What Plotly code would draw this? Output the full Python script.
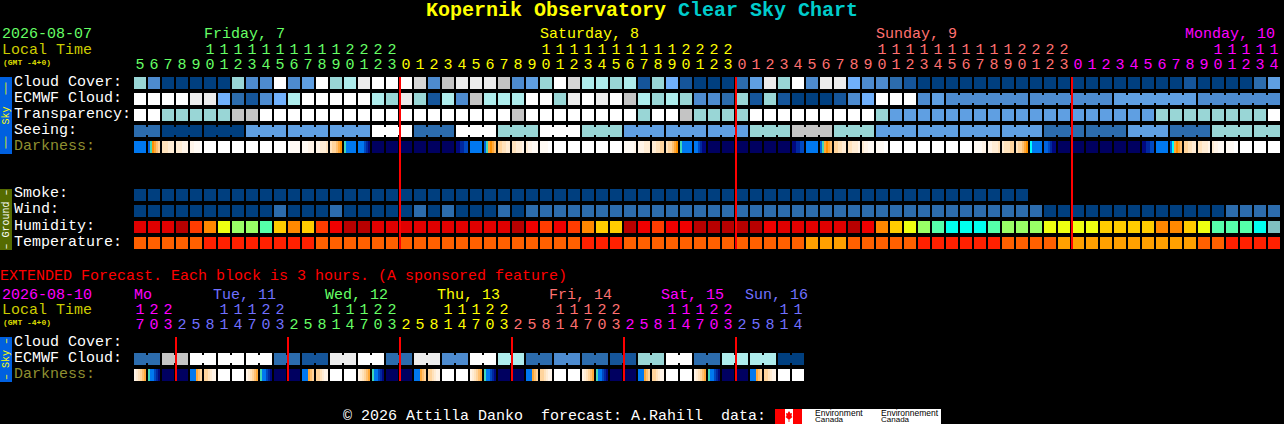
import plotly.graph_objects as go

W, H = 1284, 424
PALETTE = {
    "A": "#003f7f", "K": "#15559a", "B": "#2c6cad", "C": "#4d8bcf", "D": "#5f9fe2", "E": "#70b0fb",
    "F": "#99d6d6", "G": "#aeecec", "H": "#c4c4c4", "L": "#d6d6d6", "I": "#ececec", "J": "#ffffff",
    "P": "#b80000", "Q": "#e00000", "R": "#f00000", "S": "#ff3c00", "T": "#ff8800", "U": "#ffcc00",
    "V": "#eeff11", "W": "#99ff66", "X": "#55ffaa", "Y": "#00ffee", "Z": "#80c0c0",
    "i": "#ff6000", "j": "#ff2000", "k": "#ffa000",
    "w": "#ffffff", "a": "#fffaf4", "b": "#fff4e8", "c": "#ffecd4", "d": "#ffe2bc", "e": "#ffd49c",
    "f": "#ffc070", "g": "#ffa838", "h": "#ff9000", "t": "#40d8b8", "y": "#00ffff", "u": "#0078f0",
    "v": "#0064e0", "x": "#0048c0", "z": "#0028a0", "n": "#000880", "m": "#000060",
}

CLOUD = "FCAAAAAFCC" "JCDJFGIJJJ" "LCHIIIHCDF" "JLGGFGKFEK" "AAABDIFJCI" "IECCBKAAAA" "AAAAAAAAAA" "AAAAAKAAAABD"
ECMWF = "JJJJIIEBKC" "EGJJJJJGFI" "FKGCHGGGJJ" "FIJIJHGFGF" "CCBFKFKAAA" "KCEJJJCDCC" "CCCCCCCCCC" "DDDDDDCCCCCC"
TRANSP = "JJFFFFFHHJ" "JJJJJJJJJJ" "JJJJJJJHJJ" "JJJJJJFJJH" "FFFFJJJJJJ" "JJJFDDDDDD" "DDDDDDDDDD" "DDDFFFFFFFFJ"
SEEING_GROUPS = "BB AAA AAA DDD DDD DDD JJJ BBB JJJ FFF JJJ FFF DDD DDD DDD FFF HHH FFF DDD DDD DDD DDD BBB BBB DDD BBB FFF FF"
ECMWF_CHAINS = [(58, 63), (64, 69), (70, 75), (76, 81)]
SMOKE = "A" * 64
WIND = "AAAAAAAAAA" "BAAABAAAAA" "BABAAABABB" "BBBBBBBBBB" "BBBBBBBBBB" "BBBBBBBBBB" "BBBBBAAAAA" "AAAAAAAABBBB"
HUMID = "QQQPSTVWWX" "UTUSRPPQQQ" "QQQQQQQPRS" "RSTUUPRSRR" "PPPPPRQQQQ" "QPRTUVWXYY" "YXWWWVVVVU" "UUUTTUVXXXYZ"
TEMP = "iiiiijjjjj" "jjjiiiiiii" "iiiiiiiiii" "iijjjiiiii" "iiiiiiiikk" "kiiiiijjjj" "jjiiiikkkk" "kkkkkkiijjjj"
DARK = (
    ["uuuuuu", "vthgfe", "dddccc", "cccbbb", "bbaaaw"] + ["wwwwww"] * 6 +
    ["waaaaa", "aaabbb", "bbcccd", "deefgh", "tuuuuu", "uuuxzn"] + ["mmmmmm"] * 6 +
    ["nnzzxx", "uuuuuu", "vtghgf", "eeddcc", "ddcccb", "cbbaaa", "aaaaww"] + ["wwwwww"] * 5 +
    ["aaaaab", "bbbccc", "ccddee", "deefgh", "tuuuuu", "uuxznn"] + ["mmmmmm"] * 6 +
    ["nnzzxx", "uuuuuu", "vtghgf", "eeddcc", "ddcccb", "cbbaaa", "aaaaww"] + ["wwwwww"] * 6 +
    ["aaaabb", "bbcccd", "cdddee", "deefgh", "yuuuuu", "vvxznn"] + ["mmmmmm"] * 6 +
    ["nnzzxx", "uuuuuu", "vyghgf", "eeddcc", "ddcccb", "cbbaaa", "aaaaww"] + ["wwwwww"] * 4
)
MIDNIGHTS = [19, 43, 67]

EXT_ECMWF_PAIRS = "BHJJJBKIJBICJGBCBKFJBGGA"
EXT_DARK = (["bcdefg", "tuuxzn", "mmmmmm", "mmmmmm", "uuugfe", "eedcbb", "wwwwww", "wwwwww"] * 6)
EXT_DIVIDERS = [3, 11, 19, 27, 35, 43]

HOUR_UNITS = list("5678901234567890123" "012345678901234567890123" "012345678901234567890123" "012345678901234")
HOUR_TENS = list("     11111111112222" "          11111111112222" "          11111111112222" "          11111")
HOUR_COLORS = ["#66ff66"] * 19 + ["#ffff00"] * 24 + ["#ff7070"] * 24 + ["#ff00ff"] * 15
DAY_LABELS = [("Friday, 7", 204, "#66ff66"), ("Saturday, 8", 540, "#ffff00"), ("Sunday, 9", 876, "#ff7070"), ("Monday, 10", 1185, "#ff00ff")]

EXT_UNITS = list("703" "25814703" "25814703" "25814703" "25814703" "25814703" "25814")
EXT_TENS = list("122" "   11122" "   11122" "   11122" "   11122" "   11122" "   11")
EXT_COLORS = ["#ff00ff"] * 3 + ["#7070ff"] * 8 + ["#66ff66"] * 8 + ["#ffff00"] * 8 + ["#ff7070"] * 8 + ["#ff00ff"] * 8 + ["#7070ff"] * 5
EXT_DAYS = [("Mo", 134, "#ff00ff"), ("Tue, 11", 213, "#7070ff"), ("Wed, 12", 325, "#66ff66"), ("Thu, 13", 437, "#ffff00"),
            ("Fri, 14", 549, "#ff7070"), ("Sat, 15", 661, "#ff00ff"), ("Sun, 16", 745, "#7070ff")]

MONO = "Liberation Mono"
KEYS = list(PALETTE)
IDX = {k: i for i, k in enumerate(KEYS)}
CS = [[i / (len(KEYS) - 1), PALETTE[k]] for i, k in enumerate(KEYS)]


def fx(x):
    return x / W


def fy(y):
    return 1 - y / H


def row(s, n=82):
    return [IDX[c] for c in s] + [None] * (n - len(s))


def hm(z, x, y, xgap, ygap, xa="x", ya="y"):
    return go.Heatmap(z=z, x=x, y=y, xgap=xgap, ygap=ygap, zmin=0, zmax=len(KEYS) - 1, colorscale=CS,
                      showscale=False, hoverinfo="skip", xaxis=xa, yaxis=ya)


def connectors(s, joins, n):
    return [IDX[s[i]] if i in joins else None for i in range(n - 1)]


def dark_cells(cells):
    xs, zs = [], []
    for i, cell in enumerate(cells):
        xs.append(i - 0.5)
        zs.append(None)
        for k, c in enumerate(cell):
            xs.append(i - 0.5 + (k + 1) / 7)
            zs.append(IDX[c])
    return xs, zs


SEEING = SEEING_GROUPS.replace(" ", "")
seeing_joins, pos = set(), 0
for g in SEEING_GROUPS.split():
    seeing_joins.update(range(pos, pos + len(g) - 1))
    pos += len(g)
ecmwf_joins = {i for a, b in ECMWF_CHAINS for i in range(a, b)}

fig = go.Figure()
cols = list(range(82))
blank = [None] * 82
main = [row(CLOUD), row(ECMWF), row(TRANSP), row(SEEING), blank, blank, blank,
        row(SMOKE), row(WIND), row(HUMID), row(TEMP)]
fig.add_trace(hm(main, cols, list(range(11)), 2, 4))
bcols = [i + 0.5 for i in range(81)]
blank81 = [None] * 81
fig.add_trace(hm([blank81, connectors(ECMWF, ecmwf_joins, 82), blank81, connectors(SEEING, seeing_joins, 82)],
                 bcols, [0, 1, 2, 3], 12, 8))
dx, dz = dark_cells(DARK)
fig.add_trace(hm([[None] * len(dz), dz, [None] * len(dz)], dx, [3, 4, 5], 0, 4))

ext_ecmwf = "".join(c * 2 for c in EXT_ECMWF_PAIRS)
ecols = list(range(48))
fig.add_trace(hm([[None] * 48, row(ext_ecmwf, 48), [None] * 48], ecols, [0, 1, 2], 2, 4, ya="y2"))
fig.add_trace(hm([[None] * 47, connectors(ext_ecmwf, set(range(0, 47, 2)), 48), [None] * 47],
                 [i + 0.5 for i in range(47)], [0, 1, 2], 12, 8, ya="y2"))
ex, ez = dark_cells(EXT_DARK)
fig.add_trace(hm([[None] * len(ez), [None] * len(ez), ez], ex, [0, 1, 2], 0, 4, ya="y2"))

# midnight dividers
lx, ly = [], []
for c in MIDNIGHTS:
    lx += [c - 0.43, c - 0.43, None]
    ly += [-0.375, 10.375, None]
fig.add_trace(go.Scatter(x=lx, y=ly, mode="lines", line=dict(color="#ff0000", width=2), hoverinfo="skip"))
lx, ly = [], []
for c in EXT_DIVIDERS:
    lx += [c - 0.43, c - 0.43, None]
    ly += [-0.375, 2.375, None]
fig.add_trace(go.Scatter(x=lx, y=ly, mode="lines", line=dict(color="#ff0000", width=2), hoverinfo="skip", yaxis="y2"))


def text_row(x, y, text, colors, ya):
    fig.add_trace(go.Scatter(x=x, y=[y] * len(x), text=text, mode="text", textposition="middle center",
                             textfont=dict(family=MONO, size=15, color=colors), cliponaxis=False,
                             hoverinfo="skip", yaxis=ya))


text_row(cols, 1, HOUR_UNITS, HOUR_COLORS, "y3")
text_row(cols, 0, HOUR_TENS, HOUR_COLORS, "y3")
text_row(ecols, 1, EXT_UNITS, EXT_COLORS, "y4")
text_row(ecols, 0, EXT_TENS, EXT_COLORS, "y4")

ann = []


def label(x, y, text, color, size=15, family=MONO, anchor="left", angle=0):
    ann.append(dict(x=fx(x), y=fy(y), xref="paper", yref="paper", text=text, showarrow=False, xanchor=anchor,
                    yanchor="middle", textangle=angle, borderpad=0, borderwidth=0,
                    font=dict(family=family, size=size, color=color)))


label(642, 11, '<b><span style="color:#ffff00">Kopernik Observatory</span> <span style="color:#00cccc">Clear Sky Chart</span></b>',
      "#ffff00", size=20, anchor="center")
label(2, 35, "2026-08-07", "#66ff66")
label(2, 50, "Local Time", "#cccc00")
label(3, 62, "<b>(GMT -4+0)</b>", "#dddd00", size=8)
for t, x, c in DAY_LABELS:
    label(x, 35, t, c)
for t, y in [("Cloud Cover:", 82), ("ECMWF Cloud:", 98), ("Transparency:", 114), ("Seeing:", 130)]:
    label(14, y, t, "#ffffff")
label(14, 146, "Darkness:", "#8f8f30")
for t, y in [("Smoke:", 194), ("Wind:", 210), ("Humidity:", 226), ("Temperature:", 242)]:
    label(14, y, t, "#ffffff")
label(0, 276, "EXTENDED Forecast. Each block is 3 hours. (A sponsored feature)", "#ff0000")
label(2, 295, "2026-08-10", "#ff00ff")
label(2, 310, "Local Time", "#cccc00")
label(3, 322, "<b>(GMT -4+0)</b>", "#dddd00", size=8)
for t, x, c in EXT_DAYS:
    label(x, 295, t, c)
label(14, 342, "Cloud Cover:", "#ffffff")
label(14, 358, "ECMWF Cloud:", "#ffffff")
label(14, 374, "Darkness:", "#8f8f30")
label(6, 115.5, "──  Sky  ──", "#ffff00", size=10, anchor="center", angle=-90)
label(6, 219.5, "– Ground –", "#ffffff", size=10, anchor="center", angle=-90)
label(6, 359, "– Sky –", "#ffff00", size=10, anchor="center", angle=-90)
label(343, 416, "© 2026 Attilla Danko  forecast: A.Rahill  data:", "#ffffff")
label(815, 412.5, "Environment", "#000000", size=8.5, family="Liberation Sans")
label(815, 419, "Canada", "#000000", size=8, family="Liberation Sans")
label(881, 412.5, "Environnement", "#000000", size=8.5, family="Liberation Sans")
label(881, 419, "Canada", "#000000", size=8, family="Liberation Sans")


def rect(x0, y0, x1, y1, color):
    return dict(type="rect", xref="paper", yref="paper", x0=fx(x0), x1=fx(x1), y0=fy(y0), y1=fy(y1),
                fillcolor=color, line=dict(width=0), layer="below")


shapes = [rect(0, 77, 12, 154, "#0060e0"), rect(0, 189, 12, 250, "#556b00"), rect(0, 337, 12, 382, "#0060e0"),
          rect(775, 409, 941, 424, "#ffffff"), rect(775, 409, 785, 424, "#ff0000"), rect(793, 409, 802, 424, "#ff0000")]
leaf = [(789, 411), (790.5, 413.5), (792, 413), (791.5, 416), (792.5, 417), (789.4, 419.5), (789.4, 422), (788.6, 422),
        (788.6, 419.5), (785.5, 417), (786.5, 416), (786, 413), (787.5, 413.5)]
shapes.append(dict(type="path", xref="paper", yref="paper", fillcolor="#ff0000", line=dict(width=0),
                   path="M " + " L ".join(f"{fx(a):.5f} {fy(b):.5f}" for a, b in leaf) + " Z"))

fig.update_layout(
    width=W, height=H, margin=dict(l=0, r=0, t=0, b=0), paper_bgcolor="#000000", plot_bgcolor="#000000",
    showlegend=False, annotations=ann, shapes=shapes,
    xaxis=dict(domain=[fx(133), fx(1281)], range=[-0.5, 81.5], visible=False, fixedrange=True),
    yaxis=dict(domain=[fy(251), fy(75)], range=[10.5, -0.5], visible=False, fixedrange=True),
    yaxis2=dict(domain=[fy(383), fy(335)], range=[2.5, -0.5], visible=False, fixedrange=True, anchor="x"),
    yaxis3=dict(domain=[fy(72.5), fy(42.5)], range=[1.5, -0.5], visible=False, fixedrange=True, anchor="x"),
    yaxis4=dict(domain=[fy(332.5), fy(302.5)], range=[1.5, -0.5], visible=False, fixedrange=True, anchor="x"),
)
fig.write_html("out.html", config=dict(displayModeBar=False),
               post_script="document.body.style.margin='0';document.body.style.background='#000';")
